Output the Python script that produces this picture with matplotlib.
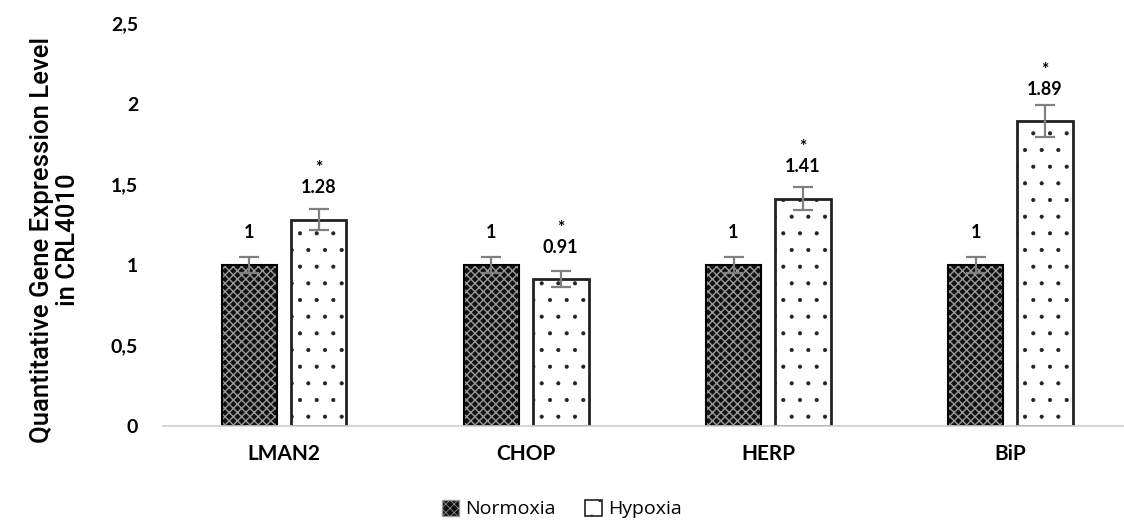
import matplotlib.pyplot as plt
import matplotlib.patches as mpatches
import numpy as np

genes = ['LMAN2', 'CHOP', 'HERP', 'BiP']
normoxia = [1, 1, 1, 1]
hypoxia = [1.28, 0.91, 1.41, 1.89]
normoxia_err = [0.05, 0.05, 0.05, 0.05]
hypoxia_err = [0.065, 0.05, 0.07, 0.1]
yticks = [0, 0.5, 1, 1.5, 2, 2.5]
ytick_labels = ['0', '0,5', '1', '1,5', '2', '2,5']

fig = plt.figure(figsize=(11.24, 5.22), dpi=100)
ax = fig.add_axes([163 / 1124, 96 / 522, 1 - 163 / 1124, 403 / 522])

x = np.arange(len(genes))
w = 0.23
gap = 0.028
xn = x - w / 2 - gap
xh = x + w / 2 + gap

# normoxia: dark fill with light cross pattern, then black outline on top
plt.rcParams['hatch.linewidth'] = 1.0
ax.bar(xn, normoxia, w, color='#111111', edgecolor='#9a9a9a', hatch='xxxx', linewidth=0)
ax.bar(xn, normoxia, w, fill=False, edgecolor='black', linewidth=1.5)
plt.rcParams['hatch.linewidth'] = 0.5
ax.bar(xh, hypoxia, w, color='white', edgecolor='#222222', hatch='.', linewidth=2)

ax.errorbar(xn, normoxia, yerr=normoxia_err, fmt='none', ecolor='#808080', capsize=7, elinewidth=1.6, capthick=1.6)
ax.errorbar(xh, hypoxia, yerr=hypoxia_err, fmt='none', ecolor='#808080', capsize=7, elinewidth=1.6, capthick=1.6)

lab_font = 'Lato'
for xi, v in zip(xn, normoxia):
    ax.text(xi, v + 0.2, f'{v:g}', ha='center', va='center', fontsize=13, fontweight='bold', family=lab_font)
for xi, v in zip(xh, hypoxia):
    ax.text(xi, v + 0.2, f'{v:.2f}', ha='center', va='center', fontsize=13, fontweight='bold', family=lab_font)
    ax.text(xi, v + 0.27, '*', ha='center', va='bottom', fontsize=12.5, fontweight='bold', family=lab_font)

ax.set_xlim(-0.5, 3.47)
ax.set_ylim(0, 2.5)
ax.set_yticks(yticks)
ax.set_yticklabels(ytick_labels, fontsize=14, fontweight='bold', family=lab_font)
ax.set_xticks(x)
ax.set_xticklabels(genes, fontsize=15, fontweight='bold', family=lab_font)
ax.tick_params(length=0, pad=18)
ax.tick_params(axis='x', pad=13)
for s in ['top', 'right', 'left']:
    ax.spines[s].set_visible(False)
ax.spines['bottom'].set_color('#d0d0d0')
ax.spines['bottom'].set_linewidth(1.2)

fig.text(0.049, 0.54, 'Quantitative Gene Expression Level\nin CRL4010', rotation=90,
         ha='center', va='center', fontsize=18.5, family='Roboto', fontweight='medium',
         linespacing=1.12)

plt.rcParams['hatch.linewidth'] = 1.0
h1 = mpatches.Patch(facecolor='#111111', edgecolor='#9a9a9a', hatch='xxxx', label='Normoxia')
plt.rcParams['hatch.linewidth'] = 0.5
h2 = mpatches.Patch(facecolor='white', edgecolor='#222222', hatch='.', linewidth=1.2, label='Hypoxia')
fig.legend(handles=[h1, h2], loc='center', bbox_to_anchor=(0.5, 0.025), ncol=2, frameon=False,
           prop={'family': 'Open Sans', 'size': 14}, handlelength=0.9, handleheight=0.9,
           handletextpad=0.3, columnspacing=1.5)

fig.savefig('out.png', dpi=100)
